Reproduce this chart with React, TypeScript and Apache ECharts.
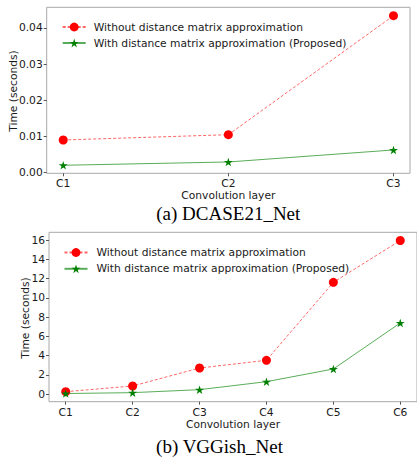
import React, { useEffect, useRef } from "react";
import * as echarts from "echarts";

const categoriesA = ["C1", "C2", "C3"];
const withoutA = [0.00904, 0.0105, 0.0434];
const withA = [0.00205, 0.00296, 0.00628];

const categoriesB = ["C1", "C2", "C3", "C4", "C5", "C6"];
const withoutB = [0.24, 0.83, 2.7, 3.5, 11.6, 15.95];
const withB = [0.05, 0.14, 0.45, 1.28, 2.6, 7.38];

const yTicksA = [0, 0.01, 0.02, 0.03, 0.04];
const yTicksB = [0, 2, 4, 6, 8, 10, 12, 14, 16];

const nameWithout = "Without distance matrix approximation";
const nameWith = "With distance matrix approximation (Proposed)";
const captionA = "(a) DCASE21_Net";
const captionB = "(b) VGGish_Net";
const xTitle = "Convolution layer";
const yTitle = "Time (seconds)";

const STAR =
  "path://M0,-1 L0.2245,-0.309 L0.9511,-0.309 L0.3633,0.118 L0.5878,0.809 L0,0.382 L-0.5878,0.809 L-0.3633,0.118 L-0.9511,-0.309 L-0.2245,-0.309 Z";

const FONT = "DejaVu Sans";
const FS = 10.7;
const TXT = "#1a1a1a";
const FRAME = "#a8a8a8";

// Chart A is plotted in hundredths of a second to keep tick values integral.
const SCALE_A = 100;
const SCALE_B = 1;

export default function App() {
  const ref = useRef<HTMLDivElement>(null);
  useEffect(() => {
    document.body.style.margin = "0";
    const chart = echarts.init(ref.current!, null, { renderer: "svg" });
    const xAxisCommon = (cats: string[]) => ({
      type: "value" as const,
      axisLine: { show: false, onZero: false },
      axisTick: {
        show: true,
        length: 3,
        lineStyle: { color: "#555" },
        customValues: cats.map((_, i) => i),
      },
      axisLabel: {
        color: TXT,
        fontFamily: FONT,
        fontSize: FS,
        margin: 5,
        hideOverlap: false,
        customValues: cats.map((_, i) => i),
        formatter: (v: number) => cats[Math.round(v)] ?? "",
      },
      splitLine: { show: false },
      name: xTitle,
      nameLocation: "middle" as const,
      nameTextStyle: { color: TXT, fontFamily: FONT, fontSize: FS },
    });
    const yAxisCommon = (ticks: number[], dec: number, scale: number) => ({
      type: "value" as const,
      axisLine: { show: false, onZero: false },
      axisTick: {
        show: true,
        length: 3,
        lineStyle: { color: "#555" },
        customValues: ticks.map((t) => Math.round(t * scale)),
      },
      axisLabel: {
        color: TXT,
        fontFamily: FONT,
        fontSize: FS,
        margin: 4,
        hideOverlap: false,
        customValues: ticks.map((t) => Math.round(t * scale)),
        formatter: (v: number) => (v / scale).toFixed(dec),
      },
      splitLine: { show: false },
    });
    const redSeries = (xi: number, data: number[], scale: number) => ({
      type: "line" as const,
      name: nameWithout,
      xAxisIndex: xi,
      yAxisIndex: xi,
      data: data.map((v, i) => [i, v * scale]),
      symbol: "circle",
      symbolSize: 9,
      itemStyle: { color: "#ff0000" },
      lineStyle: { color: "rgba(255,0,0,0.6)", width: 1, type: [3, 2] },
      clip: false,
    });
    const greenSeries = (xi: number, data: number[], scale: number) => ({
      type: "line" as const,
      name: nameWith,
      xAxisIndex: xi,
      yAxisIndex: xi,
      data: data.map((v, i) => [i, v * scale]),
      symbol: STAR,
      symbolSize: 9,
      symbolKeepAspect: true,
      itemStyle: { color: "#008000" },
      lineStyle: { color: "rgba(0,128,0,0.65)", width: 1 },
      clip: false,
    });
    const legendCommon = {
      orient: "vertical" as const,
      itemWidth: 23,
      itemHeight: 11,
      itemGap: 5,
      textStyle: {
        color: TXT,
        fontFamily: FONT,
        fontSize: FS,
        padding: [0, 0, 0, 3],
      },
      data: [nameWithout, nameWith],
      selectedMode: false,
    };
    const yTitleText = (x: number, y: number) => ({
      type: "text",
      x,
      y,
      rotation: Math.PI / 2,
      style: {
        text: yTitle,
        x: 0,
        y: 0,
        fill: TXT,
        font: `${FS}px '${FONT}'`,
        textAlign: "center",
        textVerticalAlign: "middle",
      },
    });
    chart.setOption({
      animation: false,
      backgroundColor: "#ffffff",
      grid: [
        {
          left: 46.7,
          top: 7.3,
          width: 363.3,
          height: 166,
          show: true,
          borderColor: FRAME,
          borderWidth: 1,
        },
        {
          left: 49,
          top: 232.3,
          width: 373,
          height: 169.4,
          show: true,
          borderColor: FRAME,
          borderWidth: 1,
        },
      ],
      xAxis: [
        { ...xAxisCommon(categoriesA), gridIndex: 0, min: -0.1, max: 2.1, nameGap: 14 },
        { ...xAxisCommon(categoriesB), gridIndex: 1, min: -0.25, max: 5.25, nameGap: 15 },
      ],
      yAxis: [
        { ...yAxisCommon(yTicksA, 2, SCALE_A), gridIndex: 0, min: -0.017, max: 4.572 },
        { ...yAxisCommon(yTicksB, 0, SCALE_B), gridIndex: 1, min: -0.8, max: 16.8 },
      ],
      legend: [
        { ...legendCommon, left: 56.7, top: 16.5 },
        { ...legendCommon, left: 58.5, top: 242, itemGap: 5.3, textStyle: { ...legendCommon.textStyle, padding: [0, 0, 0, 4] } },
      ],
      series: [
        redSeries(0, withoutA, SCALE_A),
        greenSeries(0, withA, SCALE_A),
        redSeries(1, withoutB, SCALE_B),
        greenSeries(1, withB, SCALE_B),
      ],
      graphic: [
        yTitleText(13, 91),
        yTitleText(25, 318),
        {
          type: "text",
          style: {
            text: captionA,
            x: 228.3,
            y: 213.3,
            fill: "#000",
            font: "19px 'Liberation Serif', 'Times New Roman', serif",
            textAlign: "center",
            textVerticalAlign: "middle",
          },
        },
        {
          type: "text",
          style: {
            text: captionB,
            x: 219.5,
            y: 446.7,
            fill: "#000",
            font: "19px 'Liberation Serif', 'Times New Roman', serif",
            textAlign: "center",
            textVerticalAlign: "middle",
          },
        },
      ],
    });
    return () => chart.dispose();
  }, []);
  return <div ref={ref} style={{ width: 417, height: 458 }} />;
}
